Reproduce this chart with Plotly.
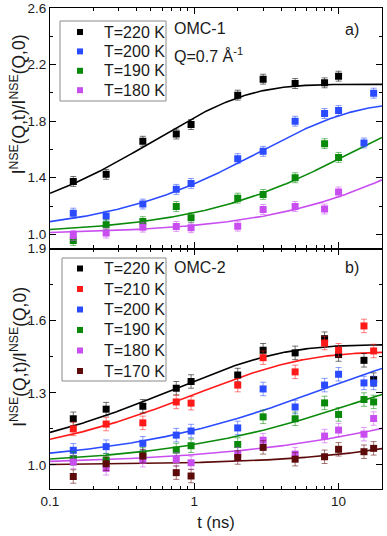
import numpy as np
import plotly.graph_objects as go
from plotly.subplots import make_subplots

# ---------------- data ----------------
t_pts = [0.145, 0.245, 0.44, 0.75, 0.95, 2, 3, 5, 8, 10, 15, 17.5]

# panel a) OMC-1
a_labels = ["T=220 K", "T=200 K", "T=190 K", "T=180 K"]
a_colors = ["#000000", "#2a4bff", "#0a8a0a", "#c94ef0"]
a_220 = [1.374, 1.424, 1.658, 1.709, 1.776, 1.984, 2.097, 2.066, 2.071, 2.118]
a_200 = [1.150, 1.129, 1.214, 1.318, 1.360, 1.535, 1.587, 1.800, 1.854, 1.875, 1.646, 1.998]
a_190 = [0.957, 1.068, 1.090, 1.197, 1.117, 1.256, 1.282, 1.400, 1.641, 1.544]
a_180 = [0.992, 1.009, 1.051, 1.056, 1.047, 1.058, 1.176, 1.197, 1.179, 1.300]
a_err = [0.035, 0.035, 0.035, 0.035]
# fit parameters (D, tau, beta) of 1 + D*(1-exp(-(t/tau)^beta))
a_fit = [(1.06, 0.54, 0.675), (0.93, 2.9, 0.68), (0.90, 11.8, 0.68), (0.90, 47.0, 0.68)]

# panel b) OMC-2
b_labels = ["T=220 K", "T=210 K", "T=200 K", "T=190 K", "T=180 K", "T=170 K"]
b_colors = ["#000000", "#ff1a1a", "#2a4bff", "#0a8a0a", "#c94ef0", "#5c0a0a"]
b_220 = [1.192, 1.232, 1.244, 1.319, 1.347, 1.374, 1.477, 1.466, 1.525, 1.459, 1.435, 1.355]
b_210 = [1.150, 1.170, 1.175, 1.262, 1.257, 1.332, 1.446, 1.387, 1.507, 1.477, 1.578, 1.474]
b_200 = [1.061, 1.076, 1.090, 1.124, 1.141, 1.154, 1.316, 1.241, 1.332, 1.377, 1.341, 1.341]
b_190 = [1.027, 1.020, 1.045, 1.062, 1.080, 1.085, 1.200, 1.192, 1.258, 1.210, 1.272, 1.262]
b_180 = [1.012, 0.986, 1.020, 1.023, 1.009, 1.045, 1.103, 1.045, 1.120, 1.145, 1.128, 1.193]
b_170 = [0.952, 1.005, 1.037, 0.968, 0.954, 1.031, 1.073, 1.024, 1.034, 1.065, 1.055, 1.069]
b_err = [0.028, 0.028, 0.028, 0.028, 0.028, 0.028]
b_fit = [(0.50, 0.73, 0.58), (0.47, 1.04, 0.58), (0.50, 7.9, 0.52),
         (0.40, 12.3, 0.57), (0.40, 93.0, 0.48), (0.40, 247.0, 0.67)]

a_series = [a_220, a_200, a_190, a_180]
b_series = [b_220, b_210, b_200, b_190, b_180, b_170]

t_fit = np.logspace(-1, np.log10(20), 300)


def model(t, D, tau, beta):
    return 1 + D * (1 - np.exp(-(t / tau) ** beta))


def rgba(hexc, a):
    h = hexc.lstrip("#")
    r, g, b = int(h[0:2], 16), int(h[2:4], 16), int(h[4:6], 16)
    return f"rgba({r},{g},{b},{a})"


W, H = 387, 536
ML, MR, MT, MB = 50, 5, 8, 47
PW, PH = W - ML - MR, H - MT - MB


def px(x):  # screen px -> paper x
    return (x - ML) / PW


def py(y):  # screen px -> paper y
    return (H - MB - y) / PH


fig = make_subplots(rows=2, cols=1, shared_xaxes=True, vertical_spacing=0,
                    row_heights=[0.5, 0.5])

FONT = "Liberation Sans, Arial, sans-serif"
TXT = "#1a1a1a"

for row, labels, colors, series, errs, fits in [
    (1, a_labels, a_colors, a_series, a_err, a_fit),
    (2, b_labels, b_colors, b_series, b_err, b_fit),
]:
    for lab, col, ys, e, p in zip(labels, colors, series, errs, fits):
        fig.add_trace(go.Scatter(
            x=t_fit, y=model(t_fit, *p), mode="lines",
            line=dict(color=col, width=1.6), showlegend=False, hoverinfo="skip"),
            row=row, col=1)
    for lab, col, ys, e, p in zip(labels, colors, series, errs, fits):
        fig.add_trace(go.Scatter(
            x=t_pts[:len(ys)], y=ys, mode="markers", name=lab, showlegend=False,
            marker=dict(symbol="square", size=7, color=col),
            error_y=dict(type="constant", value=e, color=rgba(col, 0.55),
                         thickness=1, width=3)),
            row=row, col=1)

ax_common = dict(showline=True, linecolor="black", linewidth=1.2, mirror="ticks",
                 ticks="inside", ticklen=6, tickcolor="black", showgrid=False,
                 zeroline=False, tickfont=dict(family=FONT, size=13.5, color=TXT))

fig.update_xaxes(type="log", range=[-1, np.log10(20)],
                 tickvals=[0.1, 1, 10], ticktext=["0.1", "1", "10"],
                 minor=dict(ticks="inside", ticklen=3, tickcolor="black",
                            tickvals=[0.2, 0.3, 0.4, 0.5, 0.6, 0.7, 0.8, 0.9,
                                      2, 3, 4, 5, 6, 7, 8, 9, 20],
                            showgrid=False),
                 **ax_common)
fig.update_xaxes(showticklabels=False, row=1, col=1)
fig.update_xaxes(title=dict(text="t (ns)", font=dict(family=FONT, size=16.5, color=TXT),
                            standoff=8), row=2, col=1)

fig.update_yaxes(range=[0.9, 2.6], tickvals=[1.0, 1.4, 1.8, 2.2, 2.6],
                 ticktext=["1.0", "1.4", "1.8", "2.2", "2.6"],
                 minor=dict(ticks="inside", ticklen=3, tickcolor="black",
                            tickvals=[1.2, 1.6, 2.0, 2.4], showgrid=False),
                 row=1, col=1, **ax_common)
fig.update_yaxes(range=[0.9, 1.9], tickvals=[1.0, 1.3, 1.6, 1.9],
                 ticktext=["1.0", "1.3", "1.6", "1.9"],
                 minor=dict(ticks="inside", ticklen=3, tickcolor="black",
                            tickvals=[1.15, 1.45, 1.75], showgrid=False),
                 row=2, col=1, **ax_common)

fig.update_layout(
    width=W, height=H,
    margin=dict(l=ML, r=MR, t=MT, b=MB, autoexpand=False),
    plot_bgcolor="white", paper_bgcolor="white",
    showlegend=False,
)

# ---- legends (box + square symbol + label), one per panel ----
legend_specs = [
    (a_labels, a_colors, 60, 166, 21, 101, 32.0, 19.4),
    (b_labels, b_colors, 62, 166, 258, 381, 268.5, 20.5),
]
for labels, colors, x0, x1, y0, y1, yfirst, dy in legend_specs:
    fig.add_shape(type="rect", xref="paper", yref="paper",
                  x0=px(x0), x1=px(x1), y0=py(y1), y1=py(y0),
                  line=dict(color="#8a8a8a", width=1), fillcolor="white", layer="above")
    for i, (lab, col) in enumerate(zip(labels, colors)):
        yc = yfirst + i * dy
        fig.add_shape(type="rect", xref="paper", yref="paper",
                      x0=px(77), x1=px(83), y0=py(yc + 3), y1=py(yc - 3),
                      line=dict(width=0), fillcolor=col, layer="above")
        fig.add_annotation(text=lab, x=px(102), y=py(yc), xref="paper", yref="paper",
                           xanchor="left", yanchor="middle", showarrow=False,
                           font=dict(family=FONT, size=16, color=TXT))

ytitle = "I<sup>NSE</sup>(Q,t)/I<sup>NSE</sup>(Q,0)"
for yc in [0.80, 0.275]:
    fig.add_annotation(text=ytitle, x=-0.096, y=yc, xref="paper", yref="paper",
                       textangle=-90, xanchor="center", yanchor="middle",
                       showarrow=False, font=dict(family=FONT, size=17.5, color=TXT))

ann_font = dict(family=FONT, size=16, color=TXT)
for txt, x, y, xa in [("OMC-1", 0.368, 0.958, "left"),
                      ("Q=0.7 Å<sup>-1</sup>", 0.368, 0.902, "left"),
                      ("a)", 0.936, 0.956, "right"),
                      ("OMC-2", 0.368, 0.4595, "left"),
                      ("b)", 0.936, 0.4595, "right")]:
    fig.add_annotation(text=txt, x=x, y=y, xref="paper", yref="paper",
                       xanchor=xa, yanchor="middle", showarrow=False, font=ann_font)

# remove the browser's default 8px body margin so the figure fills the window
fig.write_html("out.html", config={"displayModeBar": False},
               post_script="document.body.style.margin='0px';document.body.style.overflow='hidden';")
